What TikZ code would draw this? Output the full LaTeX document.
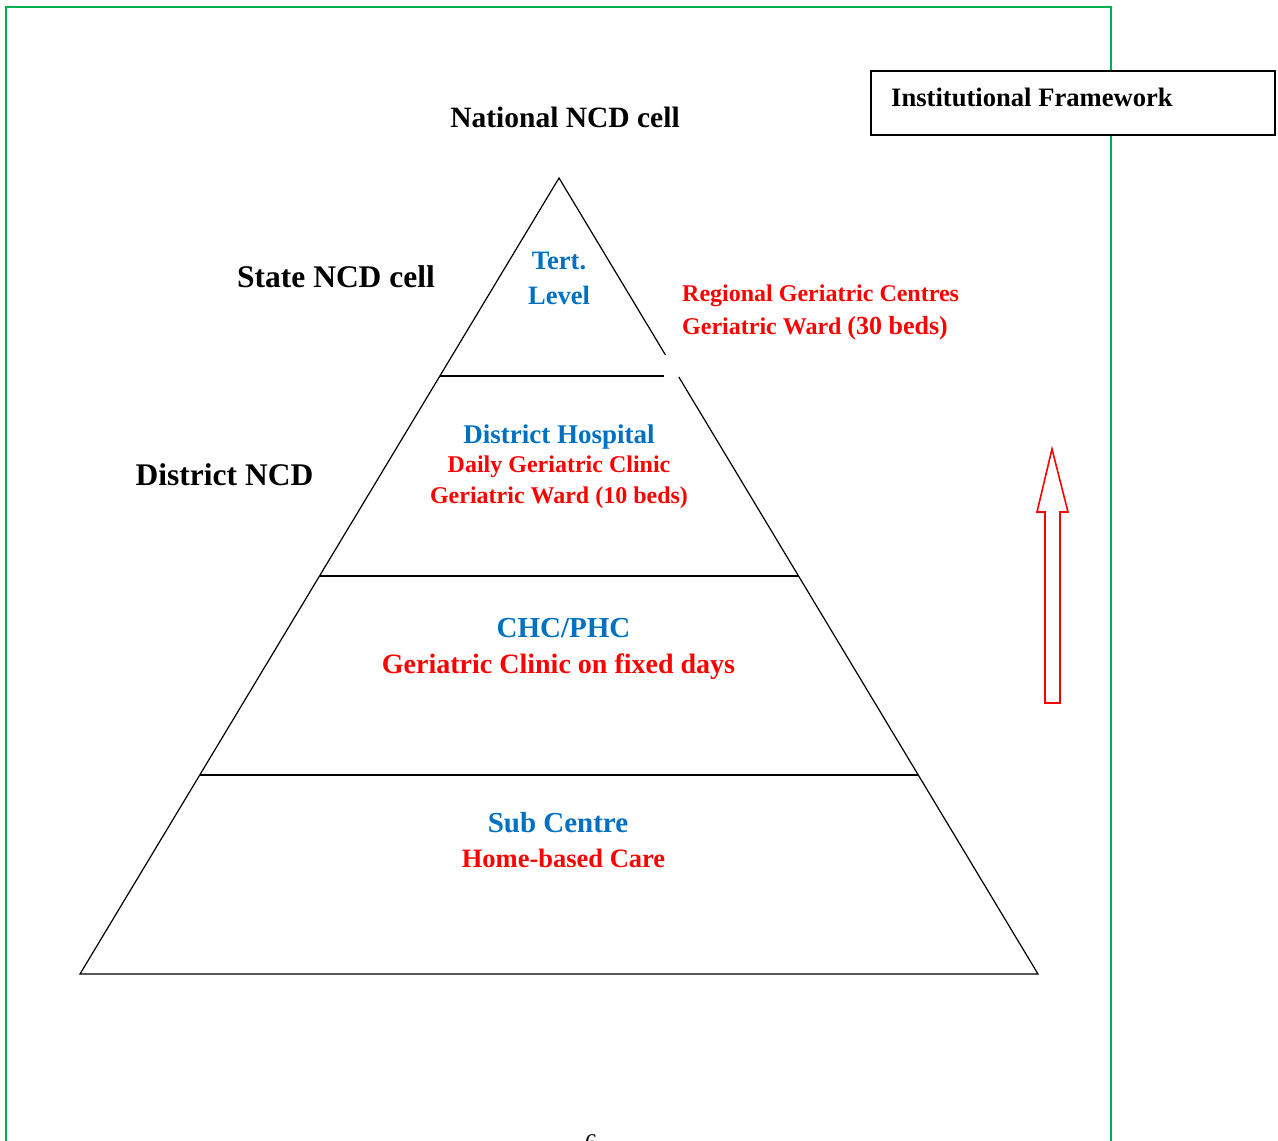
\documentclass[tikz,border=0pt]{standalone}
\usepackage{fontspec}
\setmainfont{Liberation Serif}
\definecolor{tblue}{HTML}{0070C0}
\definecolor{tred}{HTML}{FF0000}
\definecolor{tgreen}{HTML}{00B050}
\newcommand{\fsz}[1]{\fontsize{#1}{#1}\selectfont}
\begin{document}
\begin{tikzpicture}[x=1pt,y=-1pt,
  lbl/.style={inner sep=0pt, font=\bfseries},
  pyr/.style={draw=black, line width=1.2pt, line join=miter},
  uparrow/.style={draw=tred, line width=1.6pt, line join=miter, fill=white}]
\useasboundingbox (0,0) rectangle (1278,1141);
\clip (0,0) rectangle (1278,1141);
% green page frame
\draw[tgreen, line width=2pt] (6,1150) -- (6,7) -- (1111,7) -- (1111,1150);
% title box
\node[draw=black, line width=2pt, fill=white, minimum width=404pt, minimum height=64pt, inner sep=0pt, anchor=north west] (titlebox) at (870,70) {};
\node[lbl, anchor=base west, font=\bfseries\fsz{26.6}] (title) at (891,106) {Institutional Framework};
% pyramid
\coordinate (apex) at (559,178);
\coordinate (bl) at (80,974);
\coordinate (br) at (1038,974);
\draw[pyr] (665.5,355) -- (apex) -- (bl) -- (br) -- (678.8,377);
\draw[pyr] (439.8,376) -- (664,376);
\draw[pyr] (319.5,576) -- (798.5,576);
\draw[pyr] (199.7,775) -- (918.3,775);
% up arrow
\draw[uparrow] (1052,449) -- (1068,512) -- (1060,512) -- (1060,703) -- (1045,703) -- (1045,512) -- (1037,512) -- cycle;
% left labels
\node[lbl, anchor=base, font=\bfseries\fsz{29.5}] (national) at (565,127) {National NCD cell};
\node[lbl, anchor=base, font=\bfseries\fsz{31.5}] (state) at (336,287) {State NCD cell};
\node[lbl, anchor=base, font=\bfseries\fsz{31.5}] (district) at (224.5,485) {District NCD};
% tertiary
\node[lbl, anchor=base, text=tblue, font=\bfseries\fsz{26.5}] (tert) at (559,269) {Tert.};
\node[lbl, anchor=base, text=tblue, font=\bfseries\fsz{26.5}] (level) at (559,304) {Level};
\node[lbl, anchor=base west, text=tred, font=\bfseries\fsz{24}] (regional) at (682,301) {Regional Geriatric Centres};
\node[lbl, anchor=base west, text=tred, font=\bfseries\fsz{24}] (wardA) at (682,334) {Geriatric Ward \fsz{26}(30 beds)};
% district hospital
\node[lbl, anchor=base, text=tblue, font=\bfseries\fsz{27}] (dh) at (559,443) {District Hospital};
\node[lbl, anchor=base, text=tred, font=\bfseries\fsz{24}] (dgc) at (559,472) {Daily Geriatric Clinic};
\node[lbl, anchor=base, text=tred, font=\bfseries\fsz{24}] (wardB) at (559,503) {Geriatric Ward (10 beds)};
% CHC/PHC
\node[lbl, anchor=base, text=tblue, font=\bfseries\fsz{29}] (chc) at (563.5,637) {CHC/PHC};
\node[lbl, anchor=base, text=tred, font=\bfseries\fsz{28}] (gcf) at (558.5,673) {Geriatric Clinic on fixed days};
% sub centre
\node[lbl, anchor=base, text=tblue, font=\bfseries\fsz{29}] (sub) at (558,832) {Sub Centre};
\node[lbl, anchor=base, text=tred, font=\bfseries\fsz{26.5}] (home) at (563.5,867) {Home-based Care};
% page number (cut off at the page edge, as in the reference)
\node[inner sep=0pt, anchor=base, font=\fsz{24}] (pagenum) at (591,1150) {6};
\end{tikzpicture}
\end{document}
